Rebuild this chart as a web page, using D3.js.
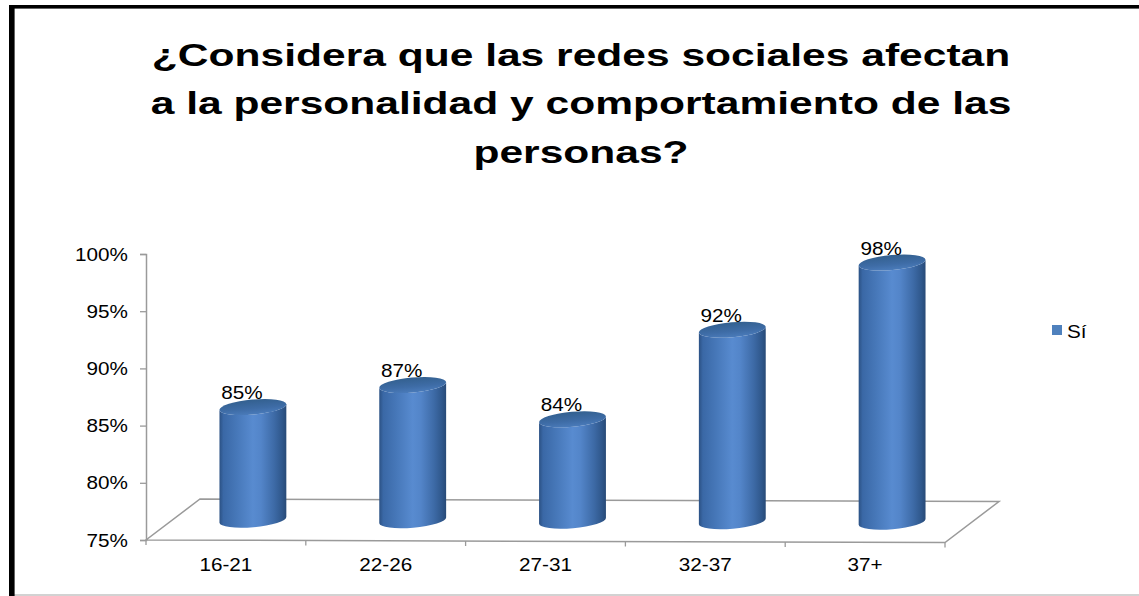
<!DOCTYPE html>
<html>
<head>
<meta charset="utf-8">
<script src="https://cdn.jsdelivr.net/npm/d3@7"></script>
<style>
  body { margin: 0; background: #fff; }
  svg { display: block; }
  text { font-family: "Liberation Sans", Arial, sans-serif; fill: #000; }
</style>
</head>
<body>
<svg id="chart" width="1139" height="596"></svg>
<script>
// ---- data ----
const titleLines = [
  "¿Considera que las redes sociales afectan",
  "a la personalidad y comportamiento de las",
  "personas?"
];
const categories = ["16-21", "22-26", "27-31", "32-37", "37+"];
const seriesName = "Sí";
const values = [0.85, 0.87, 0.84, 0.92, 0.98];
const yTicks = [0.75, 0.80, 0.85, 0.90, 0.95, 1.00];

// ---- layout ----
const W = 1139, H = 596;
const svg = d3.select("#chart");

const x = d3.scaleBand().domain(categories).range([146, 945]).padding(0);
const y = d3.scaleLinear().domain([0.75, 1.00]).range([540, 254]);
const pct = d3.format(".0%");

// simple oblique projection for the 3-D floor
const DEPTH_DX = 54, DEPTH_DY = -41;
const frontTilt = xf => (xf - 146) / (945 - 146) * 2.5;
function proj(xf, v, d) {
  const base = y.range()[0];
  return [
    xf + DEPTH_DX * d,
    base + frontTilt(xf) + DEPTH_DY * d + (y(v) - base) * (1 - 0.03 * d)
  ];
}

// stretched text helper
function label(g, str, xPos, yPos, opts) {
  const o = Object.assign({ size: 18, sx: 1.15, anchor: "middle", weight: "normal" }, opts || {});
  return g.append("text")
    .attr("transform", `translate(${xPos},${yPos}) scale(${o.sx},1)`)
    .attr("text-anchor", o.anchor)
    .attr("font-size", o.size)
    .attr("font-weight", o.weight)
    .text(str);
}

// ---- frame ----
svg.append("rect").attr("x", 0).attr("y", 0).attr("width", W).attr("height", H).attr("fill", "#fff");
svg.append("line").attr("x1", 14).attr("x2", W).attr("y1", 595).attr("y2", 595)
  .attr("stroke", "#a6a6a6").attr("stroke-width", 1.2);
svg.append("rect").attr("x", 9).attr("y", 5).attr("width", W - 9).attr("height", 3.6).attr("fill", "#000");
svg.append("rect").attr("x", 9).attr("y", 5).attr("width", 5.6).attr("height", H - 5).attr("fill", "#000");

// ---- title ----
const titleG = svg.append("g");
titleLines.forEach((t, i) => {
  label(titleG, t, 581, 65.5 + i * 48.5, { size: 32, sx: 1.33, weight: "bold" });
});

// ---- defs ----
const defs = svg.append("defs");
const sideGrad = defs.append("linearGradient").attr("id", "cylSide")
  .attr("x1", 0).attr("x2", 1).attr("y1", 0).attr("y2", 0);
[[0, "#2b5184"], [0.06, "#3a68a6"], [0.25, "#4677b8"], [0.5, "#588bd0"], [0.62, "#5385c9"],
 [0.82, "#3d6aa6"], [0.94, "#2f578b"], [1, "#284a77"]]
  .forEach(([o, c]) => sideGrad.append("stop").attr("offset", o).attr("stop-color", c));
const topGrad = defs.append("linearGradient").attr("id", "cylTop")
  .attr("x1", 0).attr("x2", 0).attr("y1", 0).attr("y2", 1);
[[0, "#33608f"], [0.6, "#3e6ca6"], [1, "#4a7bba"]]
  .forEach(([o, c]) => topGrad.append("stop").attr("offset", o).attr("stop-color", c));

// ---- floor ----
const axisColor = "#9a9a9a";
const [x0, x1] = x.range();
const floorPts = [proj(x0, 0.75, 0), proj(x1, 0.75, 0), proj(x1, 0.75, 1), proj(x0, 0.75, 1)];
svg.append("path")
  .attr("d", d3.line()(floorPts) + "Z")
  .attr("fill", "none").attr("stroke", axisColor).attr("stroke-width", 1.5);

// category ticks along the front edge
const catTicks = categories.map(c => x(c)).concat([x1]);
svg.append("g").selectAll("line").data(catTicks).join("line")
  .attr("x1", d => d).attr("x2", d => d)
  .attr("y1", d => proj(d, 0.75, 0)[1])
  .attr("y2", d => proj(d, 0.75, 0)[1] + 5)
  .attr("stroke", axisColor).attr("stroke-width", 1.3);

// category labels
const catG = svg.append("g");
categories.forEach(c => {
  label(catG, c, x(c) + x.bandwidth() / 2, 571);
});

// ---- value axis ----
const yAxisG = svg.append("g").attr("transform", `translate(${x0},0)`)
  .call(d3.axisLeft(y).tickValues(yTicks).tickSize(6).tickFormat(() => ""));
yAxisG.select(".domain").attr("stroke", axisColor).attr("stroke-width", 1.5);
yAxisG.selectAll(".tick line").attr("stroke", axisColor).attr("stroke-width", 1.3);
const yLabG = svg.append("g");
yTicks.forEach(t => {
  label(yLabG, pct(t), 128, y(t) + 6.5, { anchor: "end" });
});

// ---- cylinders ----
const ROT = -5;
const rad = ROT * Math.PI / 180;
const rx = x.bandwidth() * 0.21, ry = 7.5;
const barsG = svg.append("g");
categories.forEach((c, i) => {
  const v = values[i];
  const xf = x(c) + x.bandwidth() / 2;
  const [cx, cyBot] = proj(xf, 0.75, 0.5);
  const [, cyTop] = proj(xf, v, 0.5);
  const ex = rx * Math.cos(rad), ey = rx * Math.sin(rad);
  const d = `M${cx - ex},${cyTop - ey} L${cx - ex},${cyBot - ey}` +
    ` A${rx},${ry} ${ROT} 0 0 ${cx + ex},${cyBot + ey}` +
    ` L${cx + ex},${cyTop + ey}` +
    ` A${rx},${ry} ${ROT} 0 1 ${cx - ex},${cyTop - ey} Z`;
  barsG.append("path").attr("d", d).attr("fill", "url(#cylSide)");
  barsG.append("ellipse")
    .attr("cx", cx).attr("cy", cyTop).attr("rx", rx).attr("ry", ry)
    .attr("transform", `rotate(${ROT},${cx},${cyTop})`)
    .attr("fill", "url(#cylTop)");
  // value label
  label(barsG, pct(v), xf + 16, cyTop - ry - 0.5);
});

// ---- legend ----
const legG = svg.append("g");
legG.append("rect").attr("x", 1052).attr("y", 325).attr("width", 10).attr("height", 10).attr("fill", "#4f81bd");
label(legG, seriesName, 1067, 338, { anchor: "start" });
</script>
</body>
</html>
